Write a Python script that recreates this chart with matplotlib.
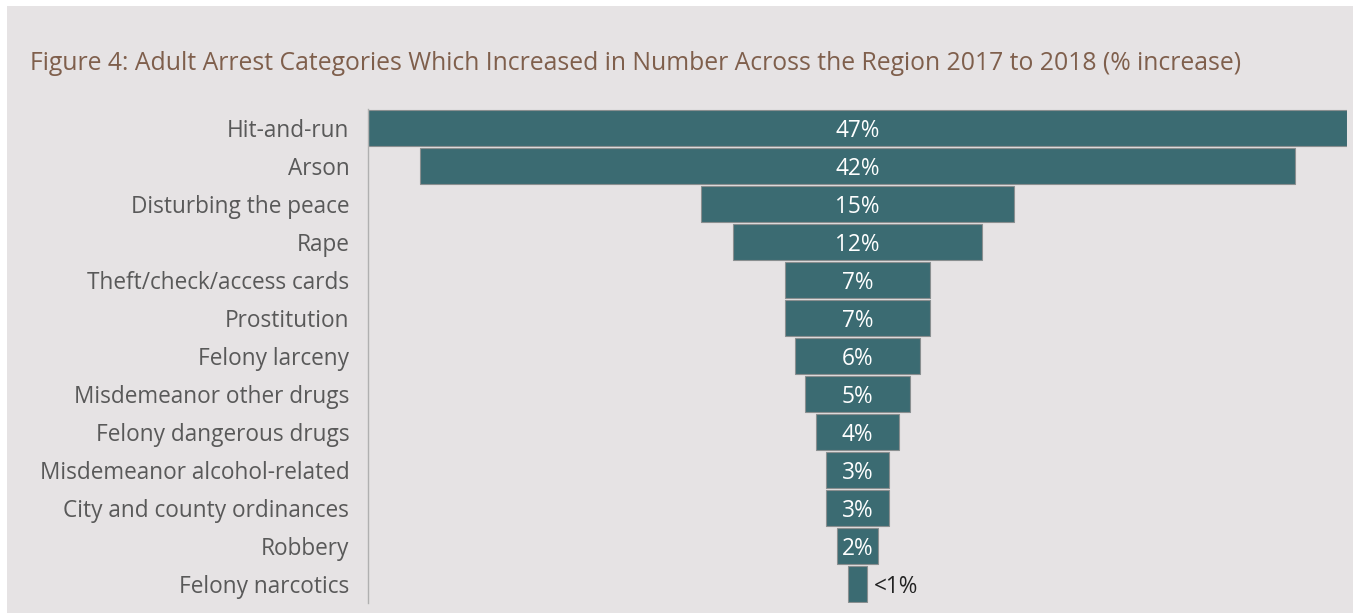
import matplotlib.pyplot as plt
from matplotlib.patches import Rectangle

categories = ["Hit-and-run", "Arson", "Disturbing the peace", "Rape",
              "Theft/check/access cards", "Prostitution", "Felony larceny",
              "Misdemeanor other drugs", "Felony dangerous drugs",
              "Misdemeanor alcohol-related", "City and county ordinances",
              "Robbery", "Felony narcotics"]
values = [47, 42, 15, 12, 7, 7, 6, 5, 4, 3, 3, 2, 0.9]
value_labels = ["47%", "42%", "15%", "12%", "7%", "7%", "6%", "5%", "4%",
                "3%", "3%", "2%", "<1%"]

plt.rcParams['font.family'] = ['Open Sans', 'DejaVu Sans']

W, H = 1353, 613
fig = plt.figure(figsize=(W / 100, H / 100), dpi=100, facecolor='white')
bg = '#e6e3e4'
fig.patches.append(Rectangle((7 / W, 0), 1 - 7 / W, 1 - 6 / H,
                             transform=fig.transFigure, facecolor=bg,
                             edgecolor='none', zorder=-10))

ax_left, ax_right = 368, 1347
ax_top, ax_bottom = 109, 603
ax = fig.add_axes([ax_left / W, 1 - ax_bottom / H, (ax_right - ax_left) / W,
                   (ax_bottom - ax_top) / H])
ax.set_facecolor('none')

bar_color = '#3b6b72'
y = list(range(len(categories)))
lefts = [-v / 2 for v in values]
ax.barh(y, values, left=lefts, height=0.93, color=bar_color,
        edgecolor='#8a8f90', linewidth=0.8)

for yi, v, lab in zip(y, values, value_labels):
    if v >= 2:
        ax.text(0, yi, lab, ha='center', va='center_baseline', color='white',
                fontsize=16.3)
    else:
        ax.text(v / 2 + 0.35, yi, lab, ha='left', va='center_baseline',
                color='#222222', fontsize=16.3)

ax.set_xlim(-23.5, 23.5)
ax.set_ylim(len(categories) - 0.5, -0.5)
ax.set_yticks(y)
ax.set_yticklabels(categories, fontsize=16.3, color='#595959',
                   va='center_baseline')
ax.tick_params(axis='y', length=0, pad=13.5)
ax.set_xticks([])
for s in ['top', 'right', 'bottom']:
    ax.spines[s].set_visible(False)
ax.spines['left'].set_color('#b0b0b0')
ax.spines['left'].set_linewidth(1.0)

fig.text(30 / W, 1 - 61 / H,
         "Figure 4: Adult Arrest Categories Which Increased in Number Across the Region 2017 to 2018 (% increase)",
         ha='left', va='center_baseline', color='#7f5f4c', fontsize=17.8)

fig.savefig('out.png', dpi=100, facecolor='white')
